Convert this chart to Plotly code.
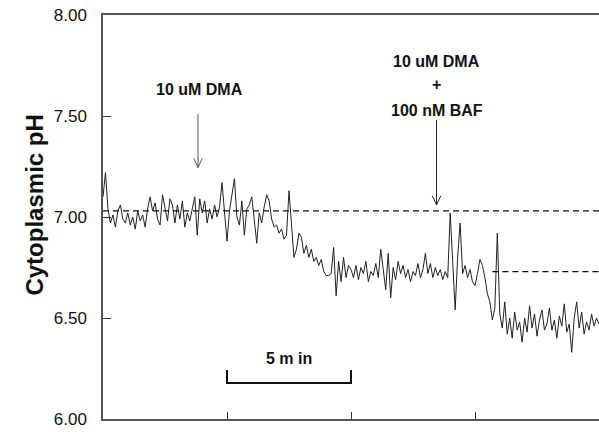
import plotly.graph_objects as go

# ---- data ----
t_step = 0.1  # minutes between samples
ph_values = [
    # 0-1 min
    7.10, 7.22, 7.04, 6.97, 7.01, 6.95, 7.03, 7.06, 6.99, 6.97,
    # 1-2
    7.02, 6.96, 7.00, 6.94, 7.03, 6.98, 7.01, 6.95, 7.04, 7.10,
    # 2-3
    7.03, 7.07, 6.99, 6.96, 7.11, 7.04, 6.98, 7.09, 7.06, 6.97,
    # 3-4
    7.06, 6.99, 7.08, 6.95, 7.02, 6.98, 7.05, 7.10, 6.91, 7.09,
    # 4-5
    7.02, 7.08, 6.97, 7.04, 6.99, 7.06, 7.00, 7.05, 7.17, 7.02,
    # 5-6
    6.88, 7.03, 7.12, 7.19, 7.00, 6.96, 7.08, 6.91, 7.04, 7.06,
    # 6-7
    7.10, 6.98, 6.87, 7.02, 6.97, 7.05, 7.11, 7.08, 6.99, 6.95,
    # 7-8
    6.96, 6.92, 6.94, 6.89, 6.91, 7.13, 6.95, 6.80, 6.84, 6.92,
    # 8-9
    6.90, 6.82, 6.86, 6.80, 6.84, 6.78, 6.80, 6.76, 6.79, 6.73,
    # 9-10
    6.71, 6.71, 6.72, 6.85, 6.61, 6.78, 6.68, 6.80, 6.70, 6.76,
    # 10-11
    6.74, 6.70, 6.76, 6.69, 6.75, 6.72, 6.78, 6.68, 6.73, 6.71,
    # 11-12
    6.77, 6.70, 6.84, 6.73, 6.64, 6.82, 6.60, 6.75, 6.69, 6.78,
    # 12-13
    6.72, 6.76, 6.70, 6.74, 6.68, 6.73, 6.71, 6.77, 6.70, 6.74,
    # 13-14
    6.82, 6.72, 6.77, 6.70, 6.75, 6.71, 6.74, 6.69, 6.73, 6.70,
    # 14-15
    7.02, 6.78, 6.54, 6.80, 6.97, 6.72, 6.76, 6.70, 6.74, 6.68,
    # 15-16
    6.66, 6.72, 6.79, 6.76, 6.70, 6.62, 6.58, 6.49, 6.55, 6.92,
    # 16-17
    6.52, 6.45, 6.58, 6.42, 6.50, 6.40, 6.53, 6.44, 6.48, 6.38,
    # 17-18
    6.50, 6.43, 6.56, 6.45, 6.52, 6.41, 6.49, 6.54, 6.44, 6.47,
    # 18-19
    6.55, 6.44, 6.49, 6.40, 6.51, 6.46, 6.57, 6.43, 6.47, 6.33,
    # 19-20
    6.50, 6.58, 6.45, 6.53, 6.42, 6.48, 6.44, 6.52, 6.46, 6.50,
    6.47,
]
time_min = [round(i * t_step, 2) for i in range(len(ph_values))]

y_ticks = [6.0, 6.5, 7.0, 7.5, 8.0]
y_tick_labels = ["6.00", "6.50", "7.00", "7.50", "8.00"]
x_ticks = [5, 10, 15]

baseline_levels = [7.03, 6.73]      # dashed reference levels
baseline_starts = [0.0, 15.7]       # minutes where each dashed line begins

# additions: label lines, label y positions, arrow x, arrow top/tip
add1_lines = ["10 uM DMA"]
add1_label_y = [7.63]
add1_x = 3.83
add1_arrow = (7.51, 7.245)

add2_lines = ["10 uM DMA", "+", "100 nM BAF"]
add2_label_y = [7.77, 7.655, 7.525]
add2_x = 13.45
add2_arrow = (7.48, 7.06)

scale_bar_x = (5.0, 10.0)
scale_bar_y = (6.178, 6.243)
scale_label = "5 m in"

# ---- figure ----
fig = go.Figure()
fig.add_trace(go.Scatter(
    x=time_min, y=ph_values, mode="lines",
    line=dict(color="#222222", width=1), showlegend=False, hoverinfo="skip"))

for lvl, x0 in zip(baseline_levels, baseline_starts):
    fig.add_shape(type="line", x0=x0, x1=20, y0=lvl, y1=lvl, xref="x", yref="y",
                  line=dict(color="#111111", width=1.3, dash="6px,4px"))

FONT = "Liberation Sans, Arial, sans-serif"

def arrow(xc, ytop, ytip, color):
    dx, dy = 0.17, 0.045
    path = (f"M {xc},{ytop} L {xc},{ytip} "
            f"M {xc-dx},{ytip+dy} L {xc},{ytip} L {xc+dx},{ytip+dy}")
    fig.add_shape(type="path", path=path, xref="x", yref="y",
                  line=dict(color=color, width=1))

for txt, yy in zip(add1_lines, add1_label_y):
    fig.add_annotation(x=add1_x + 0.05, y=yy, text=f"<b>{txt}</b>", showarrow=False,
                       font=dict(family=FONT, size=16, color="#111111"))
arrow(add1_x, add1_arrow[0], add1_arrow[1], "#555555")

for txt, yy in zip(add2_lines, add2_label_y):
    fig.add_annotation(x=add2_x, y=yy, text=f"<b>{txt}</b>", showarrow=False,
                       font=dict(family=FONT, size=16, color="#111111"))
arrow(add2_x, add2_arrow[0], add2_arrow[1], "#222222")

# scale bar
sx0, sx1 = scale_bar_x
sy0, sy1 = scale_bar_y
fig.add_shape(type="path",
              path=f"M {sx0},{sy1} L {sx0},{sy0} L {sx1},{sy0} L {sx1},{sy1}",
              xref="x", yref="y", line=dict(color="#111111", width=2))
fig.add_annotation(x=(sx0 + sx1) / 2, y=6.30, text=f"<b>{scale_label}</b>", showarrow=False,
                   font=dict(family=FONT, size=16, color="#111111"))

# y-axis title
fig.add_annotation(xref="paper", yref="paper", x=-0.169, y=0.53,
                   text="<b>Cytoplasmic pH</b>", textangle=-90, showarrow=False,
                   font=dict(family=FONT, size=24, color="#111111"))

fig.update_layout(
    width=599, height=432,
    margin=dict(l=103, r=0, t=15, b=13),
    paper_bgcolor="white", plot_bgcolor="white",
    xaxis=dict(range=[0, 20], tickvals=x_ticks, ticks="inside", ticklen=7,
               tickcolor="#333333", showticklabels=False, showgrid=False, zeroline=False,
               showline=True, linecolor="#555555", linewidth=1.5, mirror=True),
    yaxis=dict(range=[6, 8], tickvals=y_ticks, ticktext=y_tick_labels, ticks="inside",
               ticklen=8, tickcolor="#333333", showgrid=False, zeroline=False,
               showline=True, linecolor="#555555", linewidth=1.5,
               tickfont=dict(family=FONT, size=17, color="#111111"),
               ticklabelstandoff=11, ticklabeloverflow="allow"),
)

# remove the browser's default page margin so the figure fills the window exactly
fig.write_html("out.html",
               config={"displayModeBar": False},
               post_script="document.body.style.margin='0';document.body.style.overflow='hidden';")
